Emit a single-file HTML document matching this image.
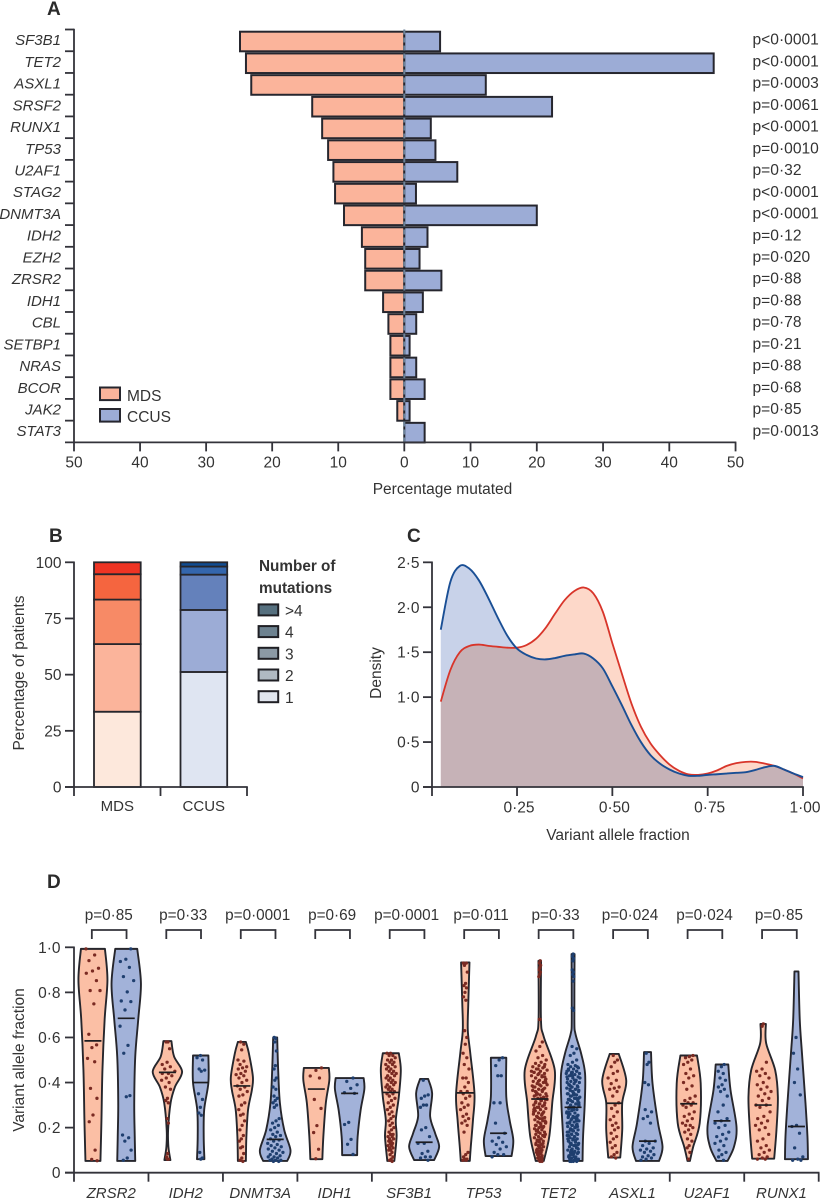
<!DOCTYPE html>
<html lang="en">
<head>
<meta charset="utf-8">
<title>Mutation profile of MDS and CCUS</title>
<style>
  html, body { margin: 0; padding: 0; background: #fff; }
  svg { display: block; }
  text { font-family: "Liberation Sans", sans-serif; fill: #333; font-size: 15px; }
  .panel { font-size: 19px; font-weight: 700; fill: #2b2b2b; }
  .gene { font-style: italic; }
</style>
</head>
<body>
<svg id="figure" xmlns="http://www.w3.org/2000/svg" width="820" height="1200" viewBox="0 0 820 1200">
  <rect x="0" y="0" width="820" height="1200" fill="#ffffff"/>
  <text class="panel" x="47" y="15">A</text>
  <text class="panel" x="49" y="542">B</text>
  <text class="panel" x="407" y="542">C</text>
  <text class="panel" x="47" y="888">D</text>
  <g id="panel-a"></g>
  <g id="panel-b"></g>
  <g id="panel-c" style="isolation:isolate"></g>
  <g id="panel-d"></g>
</svg>
<script>
// ---------- Panel A data ----------
const genesA = ['SF3B1','TET2','ASXL1','SRSF2','RUNX1','TP53','U2AF1','STAG2','DNMT3A','IDH2','EZH2','ZRSR2','IDH1','CBL','SETBP1','NRAS','BCOR','JAK2','STAT3'];
const mdsPct = [24.8,23.9,23.1,13.9,12.4,11.5,10.7,10.45,9.1,6.4,5.9,5.9,3.2,2.4,2.1,2.1,2.1,1.06,0];
const ccusPct = [5.4,46.7,12.3,22.3,4.0,4.7,8.0,1.76,20.0,3.5,2.3,5.6,2.8,1.8,0.8,1.8,3.07,0.8,3.07];
const pLabelsA = ['p<0·0001','p<0·0001','p=0·0003','p=0·0061','p<0·0001','p=0·0010','p=0·32','p<0·0001','p<0·0001','p=0·12','p=0·020','p=0·88','p=0·88','p=0·78','p=0·21','p=0·88','p=0·68','p=0·85','p=0·0013'];
const ticksA = [-50,-40,-30,-20,-10,0,10,20,30,40,50];

// ---------- Panel B data ----------
const stackGroups = ['MDS','CCUS'];
const mdsStack = [33.5,30.1,19.8,11.3,5.3];
const ccusStack = [51.2,27.6,15.7,3.6,1.9];
const stackTicks = [0,25,50,75,100];
const mutationLegend = ['>4','4','3','2','1'];

// ---------- Panel C data ----------
const vafGrid = [.05,.075,.10,.125,.15,.175,.20,.225,.25,.275,.30,.325,.35,.375,.40,.425,.45,.475,.50,.525,.55,.575,.60,.625,.65,.675,.70,.725,.75,.775,.80,.825,.85,.875,.90,.925,.95,.975,1.0];
const mdsDensity = [.95,1.30,1.50,1.57,1.585,1.57,1.56,1.55,1.55,1.58,1.65,1.77,1.93,2.08,2.18,2.22,2.155,1.95,1.60,1.26,.93,.67,.485,.355,.25,.18,.14,.135,.15,.185,.235,.265,.28,.28,.26,.235,.195,.15,.095];
const ccusDensity = [1.75,2.28,2.46,2.43,2.30,2.10,1.88,1.68,1.54,1.47,1.43,1.42,1.435,1.46,1.475,1.485,1.43,1.32,1.12,.91,.69,.50,.355,.26,.195,.15,.125,.125,.135,.142,.15,.158,.165,.19,.22,.235,.195,.15,.11];
const densityXTicks = ['0·25','0·50','0·75','1·00'];
const densityXValues = [.25,.5,.75,1];
const densityYTicks = ['0','0·5','1·0','1·5','2·0','2·5'];
const densityYValues = [0,.5,1,1.5,2,2.5];

// ---------- Panel D data ----------
const genesD = ['ZRSR2','IDH2','DNMT3A','IDH1','SF3B1','TP53','TET2','ASXL1','U2AF1','RUNX1'];
const pLabelsD = ['p=0·85','p=0·33','p=0·0001','p=0·69','p=0·0001','p=0·011','p=0·33','p=0·024','p=0·024','p=0·85'];
const vafTicks = ['0','0·2','0·4','0·6','0·8','1·0'];
const vafTickValues = [0,.2,.4,.6,.8,1];
const mdsMedians = [.585,.445,.385,.371,.356,.354,.327,.308,.306,.30];
const ccusMedians = [.685,.40,.148,.352,.135,.175,.29,.14,.23,.205];
const mdsLevels = [
  [.052,.23,.455,.68,.855,.993],
  [.056,.115,.19,.31,.38,.448,.515,.584],
  [.052,.16,.28,.367,.426,.53,.58],
  [.06,.16,.31,.41,.465],
  [.052,.16,.234,.337,.455,.53],
  [.052,.115,.234,.35,.53,.633,.75,.933],
  [.052,.16,.31,.455,.603,.678,.94],
  [.067,.19,.31,.41,.527],
  [.052,.115,.22,.396,.52],
  [.062,.19,.337,.455,.574,.66]
];
const mdsViolinDensity = [
  [7.5,8.5,9.5,11.7,14.5,12],
  [3,1,.7,3.2,7.5,14.7,6.7,4],
  [4,4.5,6.2,10,11,7,4],
  [6,7,9.5,13,12.5],
  [3.5,5.8,5,8,10,8],
  [4.5,5.5,7.7,9.2,5,2.5,3,4.2],
  [4,9.5,12.5,15,4,1.2,1.3],
  [6,8,8,12,4.5],
  [1.2,4.5,11,12,8.3],
  [11,13.3,14.7,12,3,2.7]
];
const ccusLevels = [
  [.052,.16,.31,.515,.68,.84,.993],
  [.06,.16,.28,.40,.52],
  [.052,.1,.19,.31,.455,.60],
  [.078,.16,.278,.37,.42],
  [.056,.115,.175,.25,.352,.416],
  [.074,.145,.234,.337,.51],
  [.052,.16,.31,.44,.53,.618,.68,.97],
  [.052,.115,.22,.396,.535],
  [.052,.115,.204,.367,.48],
  [.06,.16,.31,.53,.678,.893]
];
const ccusViolinDensity = [
  [9,8.5,8,9,12,14.7,11],
  [3.7,3,3.5,7.7,7.7],
  [12,15.3,9,4.7,3,2],
  [7.5,8,11,14.7,14],
  [10,15,11,6,8,4],
  [13,14.7,11,7.7,7.7],
  [9.5,10,11.7,12,8,2.3,1.3,1.5],
  [11.5,15,10.5,5,3.5],
  [5.5,12,14.5,8.5,6.3],
  [11.5,11,9,5.5,3.3,2]
];
const mdsPoints = [
  [.993,.966,.941,.907,.895,.885,.852,.808,.808,.749,.614,.567,.555,.507,.492,.374,.33,.256,.226,.1,.059,.053],
  [.58,.58,.55,.49,.48,.47,.46,.45,.44,.44,.43,.42,.41,.40,.38,.37,.33,.32,.31,.24,.22,.085,.07,.06,.06],
  [.58,.57,.545,.50,.495,.48,.47,.465,.46,.45,.44,.435,.43,.42,.41,.40,.385,.38,.37,.36,.345,.34,.31,.30,.28,.26,.255,.23,.21,.19,.165,.15,.14,.115,.11,.085,.065,.055,.05],
  [.465,.454,.429,.42,.325,.285,.209,.178,.104,.062],
  [.53,.53,.52,.52,.51,.50,.50,.49,.49,.48,.48,.47,.47,.46,.46,.45,.45,.44,.44,.43,.43,.42,.42,.41,.41,.40,.40,.39,.39,.38,.38,.37,.37,.36,.36,.35,.35,.34,.33,.32,.31,.30,.29,.28,.27,.26,.25,.24,.23,.22,.21,.20,.19,.18,.17,.17,.16,.16,.15,.15,.14,.14,.13,.13,.12,.12,.11,.11,.10,.10,.09,.08,.07,.06,.055,.05],
  [.93,.93,.92,.89,.84,.83,.82,.80,.78,.765,.63,.60,.57,.53,.51,.48,.46,.42,.42,.40,.38,.36,.36,.35,.34,.33,.31,.30,.29,.28,.26,.25,.24,.23,.22,.21,.18,.09,.08,.07,.06,.06,.055,.055],
  [.94,.93,.92,.91,.90,.89,.88,.87,.68,.68,.58,.56,.54,.52,.51,.50,.49,.485,.48,.475,.47,.465,.46,.455,.45,.445,.44,.435,.43,.425,.42,.415,.41,.405,.40,.395,.39,.385,.38,.375,.37,.365,.36,.355,.35,.345,.34,.335,.33,.325,.32,.315,.31,.305,.30,.295,.29,.285,.28,.275,.27,.265,.26,.255,.25,.245,.24,.235,.23,.225,.22,.215,.21,.205,.20,.195,.19,.185,.18,.175,.17,.165,.16,.155,.15,.145,.14,.135,.13,.125,.12,.115,.11,.105,.10,.095,.09,.085,.08,.075,.07,.065,.06,.055,.05,.33,.36,.41,.44,.28,.24,.19,.16,.12,.08,.47,.46,.45,.43,.42,.40,.39,.38,.37,.35,.34,.32,.31,.30,.29,.27,.26,.25,.23,.22,.21,.20,.18,.17,.15,.14,.13,.11,.10,.09,.07,.06,.05,.445,.425,.405,.385,.365,.345,.325,.305,.285,.265,.245,.225,.205,.185,.165,.145,.125,.105,.085,.065],
  [.52,.50,.49,.47,.45,.44,.42,.41,.395,.38,.375,.37,.36,.34,.31,.30,.285,.27,.25,.235,.22,.21,.20,.19,.175,.16,.15,.135,.12,.11,.09,.08,.07,.065],
  [.52,.515,.51,.50,.49,.48,.46,.44,.43,.42,.40,.385,.37,.34,.33,.32,.31,.31,.30,.30,.29,.27,.26,.25,.24,.23,.22,.21,.21,.20,.19,.18,.17,.15,.14,.12,.11,.09,.06],
  [.66,.65,.49,.46,.45,.44,.43,.42,.40,.39,.38,.37,.36,.35,.34,.33,.32,.30,.30,.29,.27,.25,.24,.23,.22,.21,.20,.19,.17,.15,.14,.12,.11,.10,.09,.08,.07,.065,.06,.06]
];
const ccusPoints = [
  [.993,.947,.937,.911,.87,.852,.802,.762,.759,.722,.65,.565,.53,.342,.337,.167,.155,.14,.1,.065,.055],
  [.52,.51,.50,.46,.455,.45,.35,.325,.29,.265,.255,.09,.065,.06],
  [.60,.595,.58,.54,.475,.46,.42,.41,.38,.37,.34,.33,.32,.31,.30,.29,.24,.23,.22,.21,.20,.19,.18,.17,.165,.16,.15,.145,.14,.13,.125,.12,.115,.11,.105,.10,.095,.09,.085,.08,.075,.07,.07,.065,.06,.055,.055,.055,.05,.05],
  [.42,.405,.39,.374,.355,.352,.223,.214,.148,.126,.081],
  [.41,.345,.34,.33,.30,.30,.29,.20,.19,.16,.13,.13,.095,.085,.07,.07,.065,.055],
  [.51,.50,.475,.43,.43,.31,.31,.22,.175,.155,.14,.135,.125,.115,.105,.09,.08,.08,.07],
  [.97,.96,.95,.94,.90,.89,.88,.87,.85,.73,.72,.56,.55,.53,.52,.50,.49,.48,.475,.47,.465,.46,.455,.45,.445,.44,.435,.43,.425,.42,.415,.41,.405,.40,.395,.39,.385,.38,.375,.37,.365,.36,.355,.35,.345,.34,.335,.33,.325,.32,.315,.31,.305,.30,.295,.29,.285,.28,.275,.27,.265,.26,.255,.25,.245,.24,.235,.23,.225,.22,.215,.21,.205,.20,.195,.19,.185,.18,.175,.17,.165,.16,.155,.15,.145,.14,.135,.13,.125,.12,.115,.11,.105,.10,.095,.09,.085,.08,.075,.07,.065,.06,.055,.05,.47,.43,.40,.37,.34,.31,.28,.26,.23,.21,.18,.16,.13,.11,.09,.07,.06,.05,.44,.35,.29,.24,.19,.15,.12,.08,.055,.05,.46,.45,.44,.42,.41,.39,.38,.36,.35,.33,.32,.30,.29,.27,.25,.24,.22,.20,.19,.17,.15,.14,.12,.10,.09,.07,.06,.05,.445,.425,.405,.385,.365,.345,.325,.305,.285,.265,.245,.225,.205,.185,.165,.145,.125,.105,.085,.065,.055,.052,.45,.41,.37,.33,.29,.25,.21,.17,.13,.09],
  [.53,.49,.48,.40,.39,.28,.27,.25,.24,.22,.14,.14,.13,.12,.11,.105,.10,.095,.09,.08,.075,.07,.065,.06,.055],
  [.48,.47,.45,.44,.42,.41,.39,.38,.37,.36,.34,.30,.27,.24,.23,.22,.21,.20,.18,.17,.16,.15,.14,.13,.12,.10,.09,.08,.07,.055],
  [.60,.53,.46,.40,.345,.21,.205,.175,.11,.07,.06,.055,.055]
];

// ---------- Helpers ----------
const NS = 'http://www.w3.org/2000/svg';
function mk(tag, attrs, parent, text) {
  const node = document.createElementNS(NS, tag);
  for (const k in attrs) node.setAttribute(k, attrs[k]);
  if (text !== undefined) node.textContent = text;
  parent.appendChild(node);
  return node;
}
function smooth(pts) {
  // Catmull-Rom through the given screen points (returns curve commands only)
  let d = '';
  for (let i = 0; i < pts.length - 1; i++) {
    const p0 = pts[Math.max(0, i - 1)], p1 = pts[i], p2 = pts[i + 1], p3 = pts[Math.min(pts.length - 1, i + 2)];
    const c1x = p1[0] + (p2[0] - p0[0]) / 6, c1y = p1[1] + (p2[1] - p0[1]) / 6;
    const c2x = p2[0] - (p3[0] - p1[0]) / 6, c2y = p2[1] - (p3[1] - p1[1]) / 6;
    d += 'C' + c1x.toFixed(2) + ' ' + c1y.toFixed(2) + ' ' + c2x.toFixed(2) + ' ' + c2y.toFixed(2) + ' ' + p2[0].toFixed(2) + ' ' + p2[1].toFixed(2);
  }
  return d;
}
const INK = '#33333a';
const AXW = 1.8;

// ---------- Panel A ----------
(function () {
  const g = document.getElementById('panel-a');
  const x0 = 404.3;
  const xA = v => x0 + v * 6.625;
  const rowY = i => 29.5 + i * 21.73;
  genesA.forEach((gene, i) => {
    const y = rowY(i) + 2.2;
    const mb = mk('rect', { x: xA(-mdsPct[i]), y: y, width: xA(0) - xA(-mdsPct[i]), height: 19.6, fill: '#fbb49b', stroke: '#26262e', 'stroke-width': 2 }, g);
    
    
  });
  genesA.forEach((gene, i) => {
    const y = rowY(i) + 2.2;
    const cb = mk('rect', { x: xA(0), y: y, width: xA(ccusPct[i]) - xA(0), height: 19.6, fill: '#9cacd6', stroke: '#26262e', 'stroke-width': 2 }, g);
    
    
  });
  const zero = mk('line', { x1: xA(0), x2: xA(0), y1: rowY(0), y2: rowY(19), stroke: '#6b8299', 'stroke-width': 2, 'stroke-dasharray': '5 3' }, g);
  
  
  const yAxis = mk('line', { x1: 74, x2: 74, y1: rowY(0) - 0.8, y2: rowY(19) + 0.8, stroke: INK, 'stroke-width': AXW }, g);
  
  
  const xAxis = mk('line', { x1: 65, x2: xA(50) + 0.8, y1: rowY(19), y2: rowY(19), stroke: INK, 'stroke-width': AXW }, g);
  
  
  genesA.forEach((gene, i) => {
    const tk = mk('line', { x1: 65, x2: 74, y1: rowY(i), y2: rowY(i), stroke: INK, 'stroke-width': AXW }, g);
    
    
    const lb = mk('text', { x: 61, y: rowY(i) + 15.6, 'text-anchor': 'end', class: 'gene' }, g, gene);
    
    
    const pv = mk('text', { x: 752.5, y: rowY(i) + 15.2, style: 'font-size:15.6px' }, g, pLabelsA[i]);
    
    
  });
  ticksA.forEach(t => {
    const x = t < 0 ? x0 + t * 6.606 : xA(t);
    const tk = mk('line', { x1: x, x2: x, y1: rowY(19), y2: rowY(19) + 9, stroke: INK, 'stroke-width': AXW }, g);
    
    
    const lb = mk('text', { x: x, y: 467.5, 'text-anchor': 'middle', style: 'font-size:15.5px' }, g, String(Math.abs(t)));
    
    
  });
  const title = mk('text', { x: 442.5, y: 494, 'text-anchor': 'middle', style: 'font-size:15.5px' }, g, 'Percentage mutated');
  
  
  [['MDS', '#fbb49b', 387.5, 400.8], ['CCUS', '#9cacd6', 409, 422]].forEach(e => {
    const sw = mk('rect', { x: 100, y: e[2], width: 20, height: 12.6, fill: e[1], stroke: '#26262e', 'stroke-width': 2 }, g);
    
    
    const lb = mk('text', { x: 127, y: e[3], style: 'font-size:15.5px' }, g, e[0]);
    
    
  });
})();

// ---------- Panel B ----------
(function () {
  const g = document.getElementById('panel-b');
  const yB = v => 787 - v * 2.247;
  const mdsColors = ['#fde8dc', '#fbb49b', '#f78a66', '#f5653f', '#ee3424'];
  const ccusColors = ['#dfe5f2', '#9cacd6', '#6481bb', '#3466ad', '#104c92'];
  const barLeft = [94, 180.5];
  const stacks = [mdsStack, ccusStack];
  const palettes = [mdsColors, ccusColors];
  stacks.forEach((stack, s) => {
    let cum = 0;
    stack.forEach((size, k) => {
      const top = yB(cum + size), bottom = yB(cum);
      const seg = mk('rect', { x: barLeft[s], y: top, width: 46.7, height: bottom - top, fill: palettes[s][k], stroke: '#26262c', 'stroke-width': 1.8 }, g);
      
      
      cum += size;
    });
    const lb = mk('text', { x: barLeft[s] + 23.3, y: 811, 'text-anchor': 'middle', style: 'font-size:15px' }, g, stackGroups[s]);
    
    
  });
  const ya = mk('line', { x1: 74, x2: 74, y1: yB(100) - 0.8, y2: 796, stroke: INK, 'stroke-width': AXW }, g);
  
  
  const xa = mk('line', { x1: 65, x2: 247.8, y1: yB(0), y2: yB(0), stroke: INK, 'stroke-width': AXW }, g);
  
  
  [160.5, 247].forEach(x => {
    const tk = mk('line', { x1: x, x2: x, y1: yB(0), y2: 796, stroke: INK, 'stroke-width': AXW }, g);
    
    
  });
  stackTicks.forEach(t => {
    const tk = mk('line', { x1: 65, x2: 74, y1: yB(t), y2: yB(t), stroke: INK, 'stroke-width': AXW }, g);
    
    
    const lb = mk('text', { x: 61.5, y: yB(t) + 5.5, 'text-anchor': 'end', style: 'font-size:15.5px' }, g, String(t));
    
    
  });
  const yt = mk('text', { transform: 'translate(24 673) rotate(-90)', 'text-anchor': 'middle', style: 'font-size:15.5px' }, g, 'Percentage of patients');
  
  
  const l1 = mk('text', { x: 259, y: 571, style: 'font-size:15.3px;font-weight:700' }, g, 'Number of');
  
  
  const l2 = mk('text', { x: 259, y: 593, style: 'font-size:15.3px;font-weight:700' }, g, 'mutations');
  
  
  const legendColors = ['#56707f', '#6d8290', '#8b99a5', '#b0b9c2', '#e0e5ee'];
  mutationLegend.forEach((name, i) => {
    const sw = mk('rect', { x: 258.6, y: 604.4 + i * 21.7, width: 19.6, height: 11, fill: legendColors[i], stroke: '#1f1f24', 'stroke-width': 2 }, g);
    
    
    const lb = mk('text', { x: 285, y: 616 + i * 21.7, style: 'font-size:15.5px' }, g, name);
    
    
  });
})();

// ---------- Panel C ----------
(function () {
  const g = document.getElementById('panel-c');
  const xC = v => 803 - (1 - v) * 381.3;
  const yC = d => 787 - d * 89.87;
  function curve(series) {
    return vafGrid.map((v, i) => [xC(v), yC(series[i])]);
  }
  const mPts = curve(mdsDensity), cPts = curve(ccusDensity);
  const areaPath = pts => 'M' + xC(vafGrid[0]) + ' ' + yC(0) + 'L' + pts[0][0] + ' ' + pts[0][1] + smooth(pts) + 'L' + xC(1) + ' ' + yC(0) + 'Z';
  const ma = mk('path', { d: areaPath(mPts), fill: '#fdd8c9', style: 'mix-blend-mode:multiply' }, g);
  
  
  const ca = mk('path', { d: areaPath(cPts), fill: '#c8d2e9', style: 'mix-blend-mode:multiply' }, g);
  
  
  const ml = mk('path', { d: 'M' + mPts[0][0] + ' ' + mPts[0][1] + smooth(mPts), fill: 'none', stroke: '#d8352a', 'stroke-width': 1.8 }, g);
  
  
  const cl = mk('path', { d: 'M' + cPts[0][0] + ' ' + cPts[0][1] + smooth(cPts), fill: 'none', stroke: '#1a4f95', 'stroke-width': 1.9 }, g);
  
  
  const ya = mk('line', { x1: 432, x2: 432, y1: yC(2.5) - 0.8, y2: 796, stroke: INK, 'stroke-width': AXW }, g);
  
  
  const xa = mk('line', { x1: 423, x2: xC(1) + 0.8, y1: yC(0), y2: yC(0), stroke: INK, 'stroke-width': AXW }, g);
  
  
  densityYValues.forEach((d, i) => {
    const tk = mk('line', { x1: 423, x2: 432, y1: yC(d), y2: yC(d), stroke: INK, 'stroke-width': AXW }, g);
    
    
    const lb = mk('text', { x: 419.5, y: yC(d) + 5.5, 'text-anchor': 'end', style: 'font-size:15.5px' }, g, densityYTicks[i]);
    
    
  });
  densityXValues.forEach((v, i) => {
    const tk = mk('line', { x1: xC(v), x2: xC(v), y1: yC(0), y2: 796, stroke: INK, 'stroke-width': AXW }, g);
    
    
    const lb = mk('text', { x: xC(v) + 2, y: 812.5, 'text-anchor': 'middle', style: 'font-size:15.5px' }, g, densityXTicks[i]);
    
    
  });
  const xt = mk('text', { x: 618, y: 840, 'text-anchor': 'middle', style: 'font-size:15.5px' }, g, 'Variant allele fraction');
  
  
  const yt = mk('text', { transform: 'translate(381 673) rotate(-90)', 'text-anchor': 'middle', style: 'font-size:15.5px' }, g, 'Density');
  
  
})();

// ---------- Panel D ----------
(function () {
  const g = document.getElementById('panel-d');
  const yD = v => 1172.7 - v * 225.4;
  const step = 74.47;
  const catX = i => 74 + step * (i + 0.5);
  function widthAt(levels, dens, v) {
    if (v <= levels[0]) return dens[0];
    for (let k = 1; k < levels.length; k++) {
      if (v <= levels[k]) {
        const t = (v - levels[k - 1]) / (levels[k] - levels[k - 1]);
        return dens[k - 1] + t * (dens[k] - dens[k - 1]);
      }
    }
    return dens[dens.length - 1];
  }
  function violin(cx, levels, dens, med, points, fill, dot, name, idx) {
    const right = levels.map((v, k) => [cx + dens[k], yD(v)]);
    const left = levels.map((v, k) => [cx - dens[k], yD(v)]).reverse();
    const d = 'M' + right[0][0] + ' ' + right[0][1] + smooth(right) + 'L' + left[0][0] + ' ' + left[0][1] + smooth(left) + 'Z';
    const body = mk('path', { d: d, fill: fill, stroke: '#26262c', 'stroke-width': 1.9, 'stroke-linejoin': 'round' }, g);
    
    
    points.forEach((v, n) => {
      const w = widthAt(levels, dens, v);
      const frac = ((n + idx) * 0.618034) % 1;
      const off = (frac * 2 - 1) * Math.max(1, w * 0.58);
      const pt = mk('circle', { cx: cx + off, cy: yD(v), r: 1.65, fill: dot }, g);
      
      
    });
    const hw = Math.min(8.5, widthAt(levels, dens, med));
    const ml = mk('line', { x1: cx - hw, x2: cx + hw, y1: yD(med), y2: yD(med), stroke: '#1c1c20', 'stroke-width': 1.7 }, g);
    
    
  }
  genesD.forEach((gene, i) => {
    const c = catX(i);
    violin(c - 18.3, mdsLevels[i], mdsViolinDensity[i], mdsMedians[i], mdsPoints[i], '#fbbfa5', '#7a2a22', 'mds', i);
    violin(c + 15, ccusLevels[i], ccusViolinDensity[i], ccusMedians[i], ccusPoints[i], '#a2b2d9', '#1f3f6f', 'ccus', i + 3);
    const br = mk('path', { d: 'M' + (c - 19.4) + ' 939V930H' + (c + 15.3) + 'V939', fill: 'none', stroke: INK, 'stroke-width': AXW }, g);
    
    
    const pv = mk('text', { x: c - 2.5, y: 920, 'text-anchor': 'middle', style: 'font-size:15.3px' }, g, pLabelsD[i]);
    
    
    const lb = mk('text', { x: c, y: 1198, 'text-anchor': 'middle', class: 'gene' }, g, gene);
    
    
    const tk = mk('line', { x1: c + step / 2, x2: c + step / 2, y1: yD(0), y2: yD(0) + 9, stroke: INK, 'stroke-width': AXW }, g);
    
    
  });
  const ya = mk('line', { x1: 74, x2: 74, y1: yD(1) - 0.8, y2: yD(0) + 9, stroke: INK, 'stroke-width': AXW }, g);
  
  
  const xa = mk('line', { x1: 65, x2: catX(9) + step / 2 + 0.8, y1: yD(0), y2: yD(0), stroke: INK, 'stroke-width': AXW }, g);
  
  
  vafTickValues.forEach((v, i) => {
    const tk = mk('line', { x1: 65, x2: 74, y1: yD(v), y2: yD(v), stroke: INK, 'stroke-width': AXW }, g);
    
    
    const lb = mk('text', { x: 60.5, y: yD(v) + 5.5, 'text-anchor': 'end', style: 'font-size:15.5px' }, g, vafTicks[i]);
    
    
  });
  const yt = mk('text', { transform: 'translate(24 1060) rotate(-90)', 'text-anchor': 'middle', style: 'font-size:15.5px' }, g, 'Variant allele fraction');
  
  
})();
</script>
</body>
</html>
